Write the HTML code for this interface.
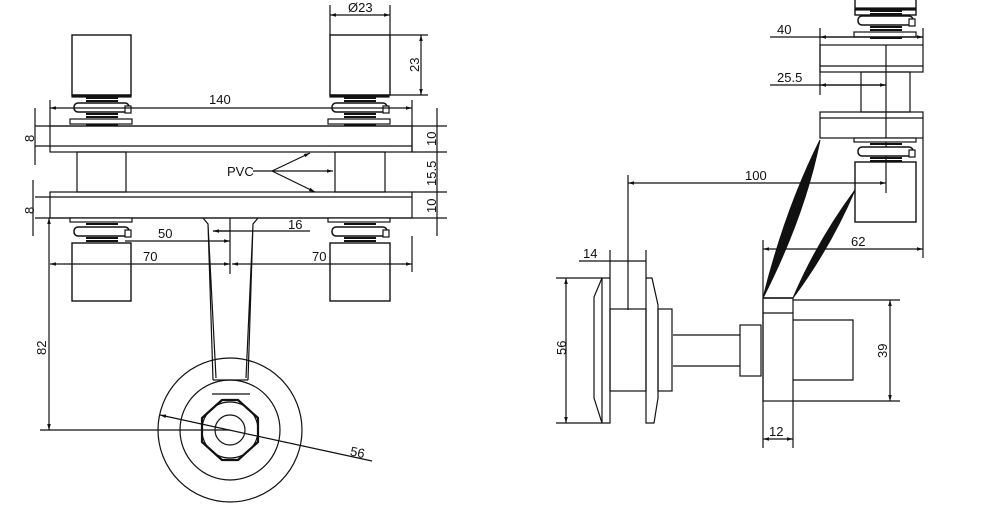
<!DOCTYPE html>
<html><head><meta charset="utf-8"><style>
html,body{margin:0;padding:0;background:#fff;width:997px;height:508px;overflow:hidden}
svg{display:block}
text{font-family:"Liberation Sans",sans-serif;font-size:13px;fill:#111}
</style></head><body>
<svg width="997" height="508" viewBox="0 0 997 508" xmlns="http://www.w3.org/2000/svg">
<defs>
<marker id="a" viewBox="0 0 10 10" refX="10" refY="5" markerWidth="8" markerHeight="5" orient="auto-start-reverse"><path d="M0,2 L10,5 L0,8 z" fill="#111"/></marker>
<g id="springT">
 <rect x="0" y="0" width="59" height="2" fill="#111"/>
 <path d="M14,3 h32 M14,6 h32" stroke="#111" stroke-width="2"/>
 <rect x="2" y="8" width="55" height="9" rx="4" fill="#fff" stroke="#111" stroke-width="1.5"/>
 <rect x="53" y="11" width="6" height="7" fill="#fff" stroke="#111"/>
 <path d="M14,19 h32 M14,22 h32 M14,25 h32" stroke="#111" stroke-width="2"/>
 <rect x="-2" y="24" width="62" height="5" fill="#fff" stroke="#111"/>
 <path d="M14,30 h32" stroke="#111" stroke-width="2"/>
</g>
<g id="springB">
 <rect x="-2" y="0" width="62" height="4" fill="#fff" stroke="#111"/>
 <path d="M14,6 h32" stroke="#111" stroke-width="2"/>
 <rect x="2" y="9" width="55" height="9" rx="4" fill="#fff" stroke="#111" stroke-width="1.5"/>
 <rect x="53" y="12" width="6" height="7" fill="#fff" stroke="#111"/>
 <path d="M14,20 h32 M14,23 h32" stroke="#111" stroke-width="2"/>
</g>
</defs>
<g fill="none" stroke="#111" stroke-width="1.2">
<!-- LEFT VIEW -->
<rect x="72" y="35" width="59" height="60" stroke-width="1.4"/>
<rect x="330" y="35" width="60" height="60" stroke-width="1.4"/>
<use href="#springT" x="72" y="95"/>
<use href="#springT" x="330" y="95"/>
<rect x="50" y="126" width="362" height="26"/>
<line x1="35" y1="126" x2="447" y2="126"/>
<line x1="35" y1="146" x2="412" y2="146"/>
<line x1="412" y1="152" x2="447" y2="152"/>
<rect x="77" y="152" width="49" height="40"/>
<rect x="335" y="152" width="50" height="40"/>
<rect x="50" y="192" width="362" height="26"/>
<line x1="412" y1="192" x2="447" y2="192"/>
<line x1="35" y1="197" x2="412" y2="197"/>
<line x1="35" y1="218" x2="447" y2="218"/>
<use href="#springB" x="72" y="218"/>
<use href="#springB" x="330" y="218"/>
<rect x="72" y="243" width="59" height="58" stroke-width="1.4"/>
<rect x="330" y="243" width="60" height="58" stroke-width="1.4"/>
<!-- dims -->
<line x1="50" y1="100" x2="50" y2="126"/><line x1="412" y1="100" x2="412" y2="152"/>
<line x1="50" y1="108" x2="412" y2="108" marker-start="url(#a)" marker-end="url(#a)"/>
<line x1="330" y1="5" x2="330" y2="35"/><line x1="390" y1="5" x2="390" y2="35"/>
<line x1="330" y1="15" x2="390" y2="15" marker-start="url(#a)" marker-end="url(#a)"/>
<line x1="390" y1="35" x2="428" y2="35"/><line x1="390" y1="95" x2="428" y2="95"/>
<line x1="421" y1="35" x2="421" y2="95" marker-start="url(#a)" marker-end="url(#a)"/>
<line x1="437" y1="108" x2="437" y2="236"/>
<line x1="35" y1="108" x2="35" y2="165"/><line x1="33" y1="180" x2="33" y2="236"/>
<line x1="253" y1="171" x2="272" y2="171"/>
<line x1="272" y1="171" x2="310" y2="153" marker-end="url(#a)"/>
<line x1="272" y1="171" x2="333" y2="171" marker-end="url(#a)"/>
<line x1="272" y1="171" x2="315" y2="192" marker-end="url(#a)"/>
<!-- arm -->
<path d="M203,218 L208,224 L213,380 M258,218 L253,224 L248,380 M208,224 L216,378 M253,224 L246,378 M213,380 H248"/>
<line x1="213" y1="231" x2="310" y2="231"/>
<line x1="230" y1="231" x2="213" y2="231" marker-end="url(#a)"/>
<line x1="125" y1="241" x2="230" y2="241" marker-end="url(#a)"/>
<line x1="230" y1="218" x2="230" y2="274"/>
<line x1="50" y1="264" x2="230" y2="264" marker-start="url(#a)" marker-end="url(#a)"/>
<line x1="232" y1="264" x2="412" y2="264" marker-start="url(#a)" marker-end="url(#a)"/>
<line x1="412" y1="236" x2="412" y2="272"/>
<line x1="49" y1="218" x2="49" y2="430" marker-start="url(#a)" marker-end="url(#a)"/>
<line x1="40" y1="430" x2="230" y2="430"/>
<circle cx="230" cy="430" r="72"/>
<circle cx="230" cy="430" r="50"/>
<path d="M222,400 H238 L258,418 V442 L238,460 H222 L202,442 V418 Z" stroke-width="2.2" stroke-linejoin="round"/>
<circle cx="230" cy="430" r="28"/>
<circle cx="230" cy="430" r="15"/>
<line x1="212" y1="394" x2="250" y2="394"/>
<line x1="160" y1="415" x2="372" y2="461" marker-start="url(#a)"/>
<!-- RIGHT VIEW -->
<rect x="855" y="-2" width="61" height="17" stroke-width="1.4"/>
<use href="#springT" x="856" y="8"/>
<rect x="820" y="45" width="103" height="27"/>
<line x1="820" y1="66" x2="923" y2="66"/>
<line x1="820" y1="28" x2="820" y2="95"/><line x1="923" y1="28" x2="923" y2="45"/>
<line x1="770" y1="37" x2="923" y2="37"/>
<line x1="820" y1="37" x2="923" y2="37" marker-start="url(#a)" marker-end="url(#a)"/>
<rect x="861" y="72" width="49" height="40"/>
<line x1="770" y1="85" x2="886" y2="85"/>
<line x1="820" y1="85" x2="886" y2="85" marker-start="url(#a)" marker-end="url(#a)"/>
<line x1="886" y1="45" x2="886" y2="193"/>
<rect x="820" y="112" width="103" height="26"/>
<line x1="820" y1="118" x2="923" y2="118"/>
<use href="#springB" x="856" y="138"/>
<rect x="855" y="162" width="61" height="60" stroke-width="1.4"/>
<line x1="628" y1="175" x2="628" y2="310"/>
<line x1="628" y1="183" x2="886" y2="183" marker-start="url(#a)" marker-end="url(#a)"/>
<line x1="923" y1="138" x2="923" y2="258"/>
<line x1="763" y1="240" x2="763" y2="448"/>
<line x1="763" y1="249" x2="923" y2="249" marker-start="url(#a)" marker-end="url(#a)"/>
<rect x="763" y="298" width="30" height="103"/>
<line x1="763" y1="313" x2="793" y2="313"/>
<line x1="793" y1="300" x2="900" y2="300"/><line x1="793" y1="401" x2="900" y2="401"/>
<line x1="890" y1="300" x2="890" y2="401" marker-start="url(#a)" marker-end="url(#a)"/>
<path d="M793,320 H853 V380 H793"/>
<line x1="793" y1="401" x2="793" y2="448"/>
<line x1="763" y1="439" x2="793" y2="439" marker-start="url(#a)" marker-end="url(#a)"/>
<rect x="740" y="325" width="21" height="51"/>
<path d="M673,335 H740 M673,366 H740"/>
<rect x="658" y="309" width="14" height="82"/>
<path d="M646,278 H652 L658,305 V398 L654,423 H646 Z"/>
<rect x="610" y="309" width="36" height="82"/>
<path d="M610,278 H602 L594,297 V398 L602,423 H610 Z"/>
<line x1="602" y1="278" x2="602" y2="423"/>
<line x1="556" y1="278" x2="602" y2="278"/><line x1="556" y1="423" x2="602" y2="423"/>
<line x1="566" y1="278" x2="566" y2="423" marker-start="url(#a)" marker-end="url(#a)"/>
<line x1="610" y1="250" x2="610" y2="278"/><line x1="646" y1="250" x2="646" y2="278"/>
<line x1="579" y1="261" x2="646" y2="261"/>
</g>
<!-- curved arm (crescents) -->
<path d="M820,140 Q785,210 763,298 Q805,215 820,140 Z" fill="#111" stroke="#111" stroke-width="1"/>
<path d="M855,190 Q818,240 793,298 Q830,248 855,190 Z" fill="#111" stroke="#111" stroke-width="1"/>
<line x1="763" y1="298" x2="793" y2="298" stroke="#111" stroke-width="1.5"/>
<!-- labels -->
<text x="348" y="12">Ø23</text>
<text x="209" y="104">140</text>
<text x="227" y="176">PVC</text>
<text x="288" y="229">16</text>
<text x="158" y="238">50</text>
<text x="143" y="261">70</text>
<text x="312" y="261">70</text>
<text x="350" y="457" transform="rotate(12 358 454)">56</text>
<text x="777" y="34">40</text>
<text x="777" y="82">25.5</text>
<text x="745" y="180">100</text>
<text x="851" y="246">62</text>
<text x="583" y="258">14</text>
<text x="769" y="436">12</text>
<g transform="rotate(-90)">
<text x="-72" y="419">23</text>
<text x="-142" y="34">8</text>
<text x="-214" y="34">8</text>
<text x="-146" y="436">10</text>
<text x="-186" y="436">15.5</text>
<text x="-213" y="436">10</text>
<text x="-355" y="46">82</text>
<text x="-355" y="566">56</text>
<text x="-358" y="887">39</text>
</g>
</svg>
</body></html>
